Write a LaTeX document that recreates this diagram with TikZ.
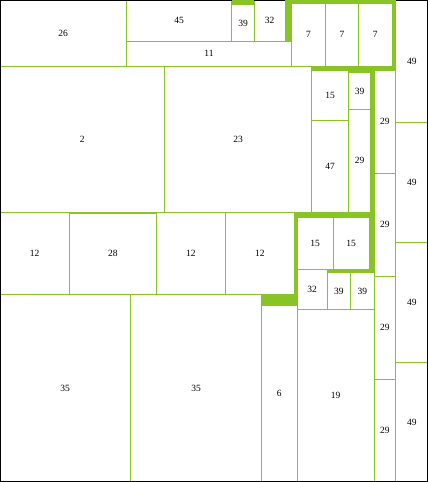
\documentclass[tikz,border=0pt]{standalone}
\usepackage{fontspec}
\setmainfont{Liberation Serif}
\definecolor{tg}{RGB}{137,196,38}
\tikzset{
  cell/.style={draw=tg, fill=white, line width=1pt},
  band/.style={fill=tg, draw=none},
  lbl/.style={font=\fontsize{9.5}{10}\selectfont, inner sep=0pt, text=black}
}
\newcommand\tmcell[6]{%
  \draw[cell] (#1,#2) rectangle (#3,#4);
  \node[lbl] (#6) at ({(#1+#3)/2},{(#2+#4)/2}) {#5};}
\begin{document}
\begin{tikzpicture}[x=1pt,y=-1pt]
\useasboundingbox (0,0) rectangle (428,482);
\fill[white] (0,0) rectangle (428,482);
% top left
\tmcell{0}{0}{126.3}{66}{26}{a26}
\tmcell{126.3}{0}{231.7}{41.3}{45}{a45}
\tmcell{231.7}{4.7}{254.3}{41.3}{39}{a39}
\tmcell{254.3}{0}{285}{41.3}{32}{a32}
\tmcell{126.3}{41.3}{291.7}{66}{11}{a11}
\tmcell{291.7}{3.3}{325.3}{66}{7}{b7a}
\tmcell{325.3}{3.3}{358.7}{66}{7}{b7b}
\tmcell{358.7}{3.3}{392}{66}{7}{b7c}
% 49 column
\tmcell{395.7}{0}{428}{122}{49}{c49a}
\tmcell{395.7}{122}{428}{242}{49}{c49b}
\tmcell{395.7}{242}{428}{362}{49}{c49c}
\tmcell{395.7}{362}{428}{482}{49}{c49d}
% middle
\tmcell{0}{66}{164.3}{212.3}{2}{d2}
\tmcell{164.3}{66}{311.7}{212.3}{23}{d23}
\tmcell{311.7}{70.7}{348.3}{120.7}{15}{d15}
\tmcell{311.7}{120.7}{348.3}{212.3}{47}{d47}
\tmcell{348.3}{72.7}{370.7}{109.3}{39}{d39}
\tmcell{348.3}{109.3}{370.7}{212.3}{29}{d29}
% 29 column
\tmcell{374}{70.7}{395.7}{173}{29}{e29a}
\tmcell{374}{173}{395.7}{276}{29}{e29b}
\tmcell{374}{276}{395.7}{379}{29}{e29c}
\tmcell{374}{379}{395.7}{482}{29}{e29d}
% 12 row
\tmcell{0}{212.3}{69.3}{294.3}{12}{f12a}
\tmcell{69.3}{212.3}{156.3}{294.3}{28}{f28}
\tmcell{156.3}{212.3}{225.3}{294.3}{12}{f12b}
\tmcell{225.3}{212.3}{294.3}{294.3}{12}{f12c}
% 15 group and below
\tmcell{297}{217.3}{333.3}{269.3}{15}{g15a}
\tmcell{333.3}{217.3}{369}{269.3}{15}{g15b}
\tmcell{297}{269.3}{327.3}{309.3}{32}{g32}
\tmcell{327.3}{272.7}{350.5}{309.3}{39}{g39a}
\tmcell{350.5}{272.7}{374}{309.3}{39}{g39b}
% bottom
\tmcell{0}{294.3}{130.3}{482}{35}{h35a}
\tmcell{130.3}{294.3}{261.7}{482}{35}{h35b}
\tmcell{261.7}{305.7}{297}{482}{6}{h6}
\tmcell{297}{309.3}{374}{482}{19}{h19}
% frame
\draw[black, line width=1pt] (0.5,0.5) rectangle (427.5,481.5);
% thick group bands
\fill[band] (231.7,0) rectangle (254.3,4.7);
\fill[band] (285,0) rectangle (291.7,41.3);
\fill[band] (291.7,0) rectangle (395.7,3.3);
\fill[band] (311.7,66) rectangle (395.7,70.7);
\fill[band] (392,0) rectangle (395.7,70.7);
\fill[band] (348.3,66) rectangle (374,72.7);
\fill[band] (370.7,66) rectangle (374,272.7);
\fill[band] (369,212.3) rectangle (374,272.7);
\fill[band] (294.3,212.3) rectangle (374,217.3);
\fill[band] (294.3,212.3) rectangle (297,305.7);
\fill[band] (327.3,269.3) rectangle (374,272.7);
\fill[band] (261.7,294.3) rectangle (297,305.7);
\fill[band] (69.3,211.8) rectangle (156.3,213.8);
\end{tikzpicture}
\end{document}
